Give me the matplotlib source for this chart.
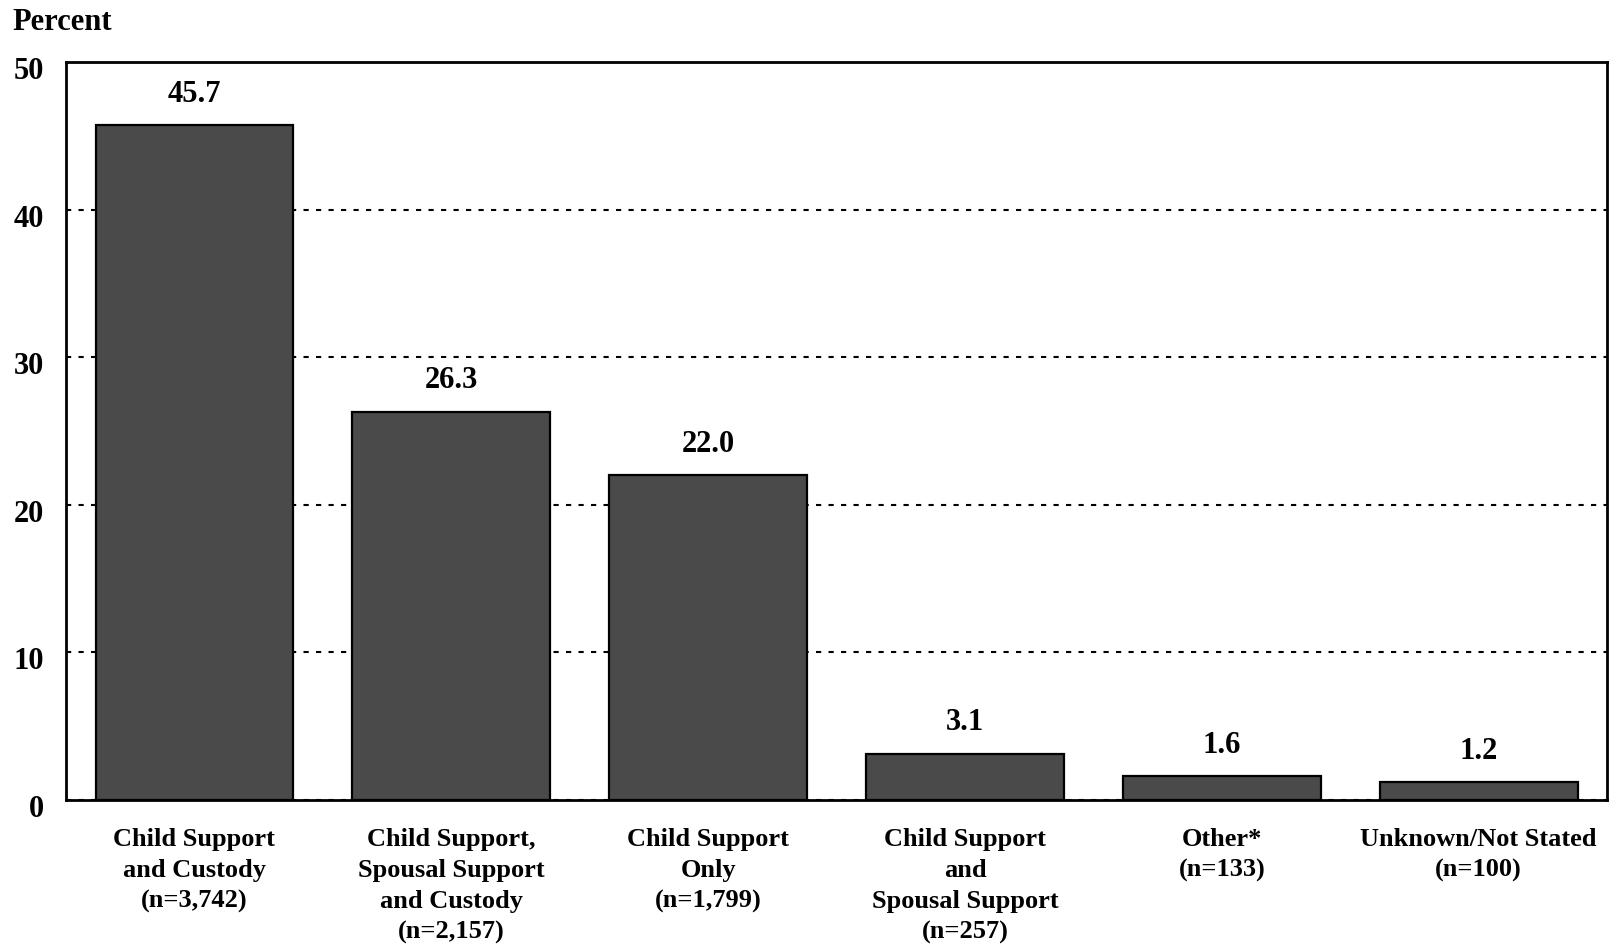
import matplotlib
matplotlib.use('Agg')
import matplotlib.pyplot as plt
import matplotlib.transforms as mtransforms

# Data
categories = [
    'Child Support\nand Custody\n(n=3,742)',
    'Child Support,\nSpousal Support\nand Custody\n(n=2,157)',
    'Child Support\nOnly\n(n=1,799)',
    'Child Support\nand\nSpousal Support\n(n=257)',
    'Other*\n(n=133)',
    'Unknown/Not Stated\n(n=100)',
]
percents = [45.7, 26.3, 22.0, 3.1, 1.6, 1.2]
yticks = [0, 10, 20, 30, 40, 50]

plt.rcParams['font.family'] = ['Liberation Serif', 'DejaVu Serif']
plt.rcParams['font.weight'] = 'bold'

fig = plt.figure(figsize=(16.14, 9.5), dpi=100)
ax = fig.add_axes([0.0409, 0.158, 0.9548, 0.7767])

x = range(len(categories))
ax.bar(x, percents, width=0.77, color='#4a4a4a', edgecolor='black',
       linewidth=1.6, zorder=3)

for xi, v in zip(x, percents):
    ax.annotate(f'{v:.1f}', (xi, v), xytext=(0, 12), textcoords='offset points',
                ha='center', va='bottom', fontsize=22, fontweight='bold')

ax.set_xlim(-0.5, len(categories) - 0.5)
ax.set_ylim(0, 50)
ax.set_yticks(yticks)
ax.set_yticklabels([str(t) for t in yticks], fontsize=22, fontweight='bold')
ax.set_xticks(list(x))
ax.set_xticklabels(categories, fontsize=19, fontweight='bold', linespacing=1.45)
ax.tick_params(axis='y', length=0, pad=16)
ax.tick_params(axis='x', length=0, pad=20)

# nudge y tick labels down a touch like the original
offset = mtransforms.ScaledTranslation(0, -6 / 100, fig.dpi_scale_trans)
for lab in ax.get_yticklabels():
    lab.set_transform(lab.get_transform() + offset)

ax.yaxis.grid(True, color='black', linestyle=(0, (2.5, 3.5)), linewidth=1.5)
ax.set_axisbelow(True)
for s in ax.spines.values():
    s.set_linewidth(2)
    s.set_color('black')

fig.text(0.008, 0.976, 'Percent', fontsize=22, fontweight='bold',
         ha='left', va='center')

plt.savefig('out.png', dpi=100)
plt.close()
